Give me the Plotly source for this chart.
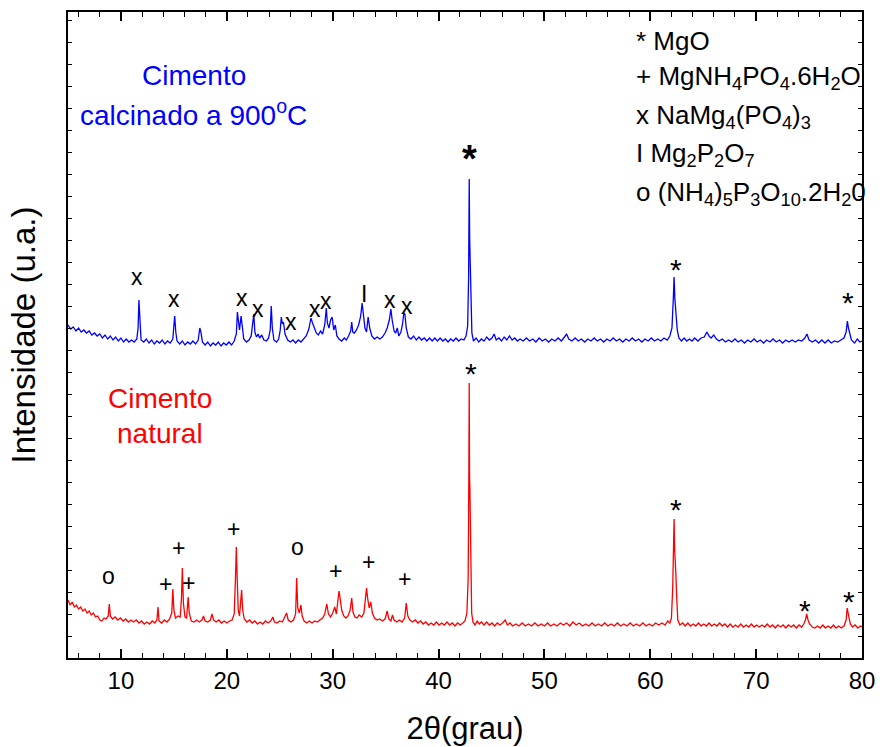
import plotly.graph_objects as go

# ---------------- data ----------------
two_theta_blue = [
 5.0,5.25,5.5,5.75,6.0,6.25,6.5,6.75,7.0,7.25,7.5,7.75,8.0,8.25,8.5,8.75,9.0,9.25,9.5,9.75,
 10.0,10.25,10.5,10.75,11.0,11.25,11.5,11.62,11.7,11.78,11.9,12.15,12.4,12.65,12.9,13.15,13.4,13.65,13.9,14.15,
 14.4,14.65,14.9,15.0,15.08,15.18,15.3,15.55,15.8,16.05,16.3,16.55,16.8,17.05,17.3,17.45,17.55,17.7,17.95,18.2,
 18.45,18.7,18.95,19.2,19.45,19.7,19.95,20.2,20.45,20.7,20.9,21.0,21.1,21.2,21.35,21.45,21.6,21.85,22.1,22.3,
 22.45,22.55,22.65,22.8,22.95,23.1,23.3,23.5,23.75,23.95,24.1,24.2,24.3,24.45,24.7,24.9,25.05,25.15,25.25,25.35,
 25.5,25.75,26.0,26.25,26.5,26.75,27.0,27.25,27.5,27.75,27.95,28.1,28.25,28.45,28.65,28.85,29.05,29.25,29.4,29.5,
 29.65,29.8,29.95,30.1,30.25,30.4,30.6,30.85,31.1,31.3,31.5,31.7,31.8,31.9,32.05,32.25,32.45,32.65,32.78,32.9,
 33.05,33.2,33.35,33.5,33.7,33.95,34.2,34.45,34.7,34.95,35.15,35.35,35.5,35.62,35.8,35.95,36.1,36.25,36.45,36.6,
 36.72,36.82,36.95,37.15,37.4,37.65,37.9,38.15,38.4,38.65,38.9,39.15,39.4,39.65,39.9,40.15,40.4,40.65,40.9,41.15,
 41.4,41.65,41.9,42.15,42.4,42.6,42.75,42.84,42.9,42.94,42.97,43.01,43.06,43.15,43.3,43.55,43.8,44.05,44.3,44.55,
 44.8,45.05,45.25,45.45,45.7,45.95,46.2,46.45,46.7,46.95,47.2,47.45,47.7,48.0,48.3,48.6,48.9,49.2,49.5,49.8,
 50.1,50.4,50.7,51.0,51.3,51.6,51.9,52.1,52.3,52.6,52.9,53.2,53.5,53.8,54.1,54.4,54.7,55.0,55.3,55.6,
 55.9,56.2,56.5,56.8,57.1,57.4,57.7,58.0,58.3,58.6,58.9,59.2,59.5,59.8,60.1,60.4,60.7,61.0,61.3,61.6,
 61.85,62.05,62.18,62.25,62.32,62.38,62.45,62.55,62.7,62.95,63.2,63.45,63.7,63.95,64.2,64.5,64.8,65.1,65.35,65.55,
 65.75,66.0,66.25,66.5,66.8,67.1,67.4,67.7,68.0,68.3,68.6,68.9,69.2,69.5,69.8,70.1,70.4,70.7,71.0,71.3,
 71.6,71.9,72.2,72.5,72.8,73.1,73.4,73.7,74.0,74.3,74.6,74.8,75.0,75.3,75.6,75.9,76.2,76.5,76.8,77.1,
 77.4,77.7,78.0,78.3,78.5,78.62,78.72,78.85,79.0,79.3,79.55,79.8,80.0]
intensity_blue = [
 333,329,331,327,330,326,328,325,327,323,325,322,324,320,323,319,322,318,321,317,
 320,316,319,316,318,316,319,330,358,335,318,316,319,315,318,314,317,315,318,314,
 317,315,319,332,342,326,317,314,317,313,316,314,317,314,318,330,326,316,313,316,
 312,315,313,316,312,315,313,316,313,317,324,346,332,328,342,330,319,316,318,322,
 335,344,326,321,324,320,323,318,317,320,328,352,330,318,316,319,328,341,334,336,
 324,318,316,318,315,318,316,319,322,329,340,335,331,325,323,327,324,333,350,335,
 330,338,341,328,333,322,319,317,320,318,322,327,336,326,325,328,333,342,355,340,
 330,326,341,330,322,319,321,319,321,325,330,338,349,338,327,325,330,322,326,334,
 345,344,330,321,319,322,318,321,318,320,317,320,317,320,317,320,317,319,316,319,
 317,320,317,319,318,322,332,380,479,420,401,388,345,325,317,320,316,319,317,321,
 318,320,324,318,320,317,321,318,322,318,320,317,319,317,320,317,319,316,320,317,
 319,316,319,317,320,317,321,324,319,317,320,317,319,316,319,317,320,317,319,316,
 319,317,320,317,319,316,319,317,320,317,319,316,319,317,320,317,319,317,320,318,
 322,330,360,381,360,353,348,328,320,317,320,317,319,317,320,317,320,321,326,322,
 320,323,319,317,319,316,318,316,319,316,318,315,318,316,319,316,318,315,318,316,
 319,316,318,315,318,316,318,316,318,317,320,324,318,316,318,315,318,315,318,315,
 317,316,318,320,326,337,330,325,318,315,319,316,317]

two_theta_red = [
 5.0,5.2,5.4,5.6,5.8,6.0,6.2,6.4,6.6,6.8,7.0,7.2,7.4,7.6,7.8,8.0,8.2,8.4,8.6,8.8,
 8.9,9.0,9.2,9.45,9.7,9.95,10.2,10.45,10.7,10.95,11.2,11.45,11.7,11.95,12.2,12.45,12.7,12.95,13.2,13.4,
 13.5,13.6,13.85,14.1,14.35,14.6,14.8,14.9,15.0,15.15,15.4,15.6,15.72,15.8,15.9,16.05,16.2,16.35,16.45,16.65,
 16.9,17.15,17.4,17.65,17.8,17.95,18.2,18.45,18.6,18.75,19.0,19.25,19.5,19.75,20.0,20.25,20.5,20.7,20.82,20.9,
 20.98,21.08,21.2,21.3,21.4,21.5,21.65,21.9,22.15,22.4,22.65,22.9,23.15,23.4,23.65,23.9,24.15,24.35,24.5,24.75,
 25.0,25.25,25.5,25.65,25.8,26.05,26.3,26.5,26.6,26.7,26.85,27.0,27.12,27.3,27.55,27.8,28.05,28.3,28.55,28.8,
 29.05,29.25,29.45,29.6,29.8,30.0,30.2,30.35,30.5,30.6,30.7,30.85,31.05,31.25,31.45,31.65,31.8,31.92,32.1,32.3,
 32.5,32.75,32.95,33.1,33.2,33.3,33.45,33.6,33.75,33.95,34.2,34.45,34.7,34.95,35.15,35.3,35.5,35.65,35.8,36.05,
 36.3,36.55,36.8,36.95,37.1,37.3,37.55,37.8,38.05,38.3,38.55,38.8,39.05,39.3,39.55,39.8,40.05,40.3,40.55,40.8,
 41.05,41.3,41.55,41.8,42.05,42.3,42.5,42.68,42.8,42.86,42.9,42.93,42.96,42.99,43.03,43.07,43.13,43.25,43.45,43.65,
 43.85,44.05,44.3,44.55,44.8,45.05,45.3,45.55,45.8,46.05,46.3,46.5,46.75,47.0,47.3,47.6,47.9,48.2,48.5,48.8,
 49.1,49.4,49.7,50.0,50.3,50.6,50.9,51.2,51.5,51.8,52.1,52.4,52.7,53.0,53.3,53.6,53.9,54.2,54.5,54.8,
 55.1,55.4,55.7,56.0,56.3,56.6,56.9,57.2,57.5,57.8,58.1,58.4,58.7,59.0,59.3,59.6,59.9,60.2,60.5,60.8,
 61.1,61.4,61.65,61.85,62.0,62.12,62.2,62.25,62.3,62.35,62.42,62.5,62.6,62.8,63.05,63.3,63.55,63.8,64.05,64.3,
 64.55,64.8,65.05,65.3,65.55,65.8,66.05,66.3,66.55,66.8,67.05,67.3,67.55,67.8,68.05,68.3,68.55,68.8,69.05,69.3,
 69.55,69.8,70.05,70.3,70.55,70.8,71.05,71.3,71.55,71.8,72.05,72.3,72.55,72.8,73.05,73.3,73.55,73.8,74.05,74.3,
 74.5,74.65,74.78,74.9,75.05,75.3,75.55,75.8,76.05,76.3,76.55,76.8,77.05,77.3,77.55,77.8,78.05,78.3,78.5,78.6,
 78.68,78.78,78.9,79.1,79.35,79.6,79.85,80.0]
intensity_red = [
 58,53,56,51,53,49,51,47,49,45,47,43,45,41,42,38,37,40,39,42,
 54,42,39,41,38,40,37,39,36,38,36,38,35,37,34,36,34,37,35,38,
 51,37,35,38,36,39,45,69,48,40,42,41,60,90,55,41,40,61,45,37,
 36,38,36,38,42,37,36,38,44,38,36,38,35,37,35,37,38,44,80,111,
 80,48,42,55,68,48,39,36,38,35,37,34,36,34,37,35,37,41,36,35,
 37,36,41,45,38,36,38,44,80,50,45,53,42,37,35,37,35,37,36,38,
 40,44,54,44,41,45,51,44,55,67,60,48,42,40,42,48,60,46,41,40,
 43,41,45,58,70,60,50,56,45,40,38,39,37,39,47,39,37,43,38,36,
 38,36,40,55,42,38,36,38,35,37,34,36,33,35,33,36,33,35,33,36,
 33,35,32,35,33,35,37,45,80,180,275,180,171,145,141,90,45,36,33,37,
 34,36,33,36,33,35,32,35,33,35,38,33,35,32,34,32,35,32,34,32,
 35,32,34,32,35,32,34,32,35,33,35,32,36,33,35,32,34,32,35,32,
 34,32,35,32,34,32,35,32,34,32,35,32,34,32,35,32,34,32,35,33,
 35,33,37,35,40,70,120,139,110,85,83,60,38,33,35,32,35,32,34,32,
 35,32,34,32,35,32,34,32,35,32,34,31,34,31,33,31,34,31,33,31,
 34,31,33,31,33,31,34,31,33,30,33,31,33,30,33,31,33,30,33,31,
 34,38,44,38,34,31,30,32,30,33,30,32,30,33,30,32,30,32,38,50,
 44,40,34,31,33,30,32,31]

x_ticks = [10, 20, 30, 40, 50, 60, 70, 80]

# peak-label positions (2theta, symbol, intensity)
blue_marks = [(11.5, "x", 381), (15.0, "x", 359), (21.4, "x", 360), (22.9, "x", 349),
              (26.1, "x", 336), (28.3, "x", 349), (29.4, "x", 357), (33.0, "I", 364),
              (35.4, "x", 358), (37.0, "x", 352), (62.4, "*", 397), (78.7, "*", 364)]
red_marks = [(8.8, "o", 82), (14.25, "+", 74), (15.4, "+", 110), (16.35, "+", 75),
             (20.6, "+", 129), (26.7, "o", 111), (30.3, "+", 87), (33.4, "+", 96),
             (36.8, "+", 79), (43.05, "*", 293), (62.4, "*", 157), (74.6, "*", 56),
             (78.75, "*", 65)]

legend_lines = ["* MgO",
                "+ MgNH<sub>4</sub>PO<sub>4</sub>.6H<sub>2</sub>O",
                "x NaMg<sub>4</sub>(PO<sub>4</sub>)<sub>3</sub>",
                "I Mg<sub>2</sub>P<sub>2</sub>O<sub>7</sub>",
                "o (NH<sub>4</sub>)<sub>5</sub>P<sub>3</sub>O<sub>10</sub>.2H<sub>2</sub>0"]

FONT = "Liberation Sans, Arial, sans-serif"

fig = go.Figure()
fig.add_trace(go.Scatter(x=two_theta_blue, y=intensity_blue, mode="lines",
                         line=dict(color="#0000FF", width=1.3), showlegend=False))
fig.add_trace(go.Scatter(x=two_theta_red, y=intensity_red, mode="lines",
                         line=dict(color="#FF0000", width=1.3), showlegend=False))

ann = []
for x, s, y in blue_marks + red_marks:
    size, off = 23, 0
    if s == "*":
        size, off = 30, -8
    ann.append(dict(x=x, y=y, text=s, showarrow=False, xref="x", yref="y",
                    yshift=off, font=dict(size=size, color="black", family=FONT)))
# big bold asterisk over the main calcined MgO peak
ann.append(dict(x=42.9, y=510, text="<b>*</b>", showarrow=False, yshift=-11,
                font=dict(size=38, color="black", family=FONT)))

# sample labels
ann.append(dict(x=16.9, y=583, text="Cimento", showarrow=False,
                font=dict(size=28, color="#0000FF", family=FONT)))
ann.append(dict(x=16.9, y=545, text="calcinado a 900<sup>o</sup>C", showarrow=False,
                font=dict(size=28, color="#0000FF", family=FONT)))
ann.append(dict(x=13.7, y=260, text="Cimento", showarrow=False,
                font=dict(size=28, color="#FF0000", family=FONT)))
ann.append(dict(x=13.7, y=225, text="natural", showarrow=False,
                font=dict(size=28, color="#FF0000", family=FONT)))

for i, t in enumerate(legend_lines):
    ann.append(dict(x=58.5, y=617 - i * 38.5 + (0 if i == 0 else 2), text=t,
                    showarrow=False, xanchor="left",
                    font=dict(size=26, color="black", family=FONT)))

fig.update_layout(
    width=880, height=747,
    margin=dict(l=68, r=18, t=12, b=89),
    paper_bgcolor="white", plot_bgcolor="white",
    font=dict(family=FONT, color="black"),
    annotations=ann,
    xaxis=dict(range=[5, 80], tickvals=x_ticks, ticks="inside", ticklen=9, tickwidth=1.5,
               tickcolor="black", showline=True, linecolor="black", linewidth=2,
               mirror="ticks", showgrid=False, zeroline=False, automargin=False,
               tickfont=dict(size=24, family=FONT),
               minor=dict(dtick=2, tick0=0, ticks="inside", ticklen=5, tickwidth=1.2,
                          tickcolor="black", showgrid=False),
               title=dict(text="2θ(grau)", font=dict(size=31, family=FONT), standoff=25)),
    yaxis=dict(range=[0, 646], dtick=22, tick0=0, ticks="inside", ticklen=4, tickwidth=1.2,
               tickcolor="black", showticklabels=False, showline=True, linecolor="black",
               linewidth=2, mirror="ticks", showgrid=False, zeroline=False, automargin=False,
               title=dict(text="Intensidade (u.a.)", font=dict(size=33, family=FONT),
                          standoff=20)),
)

fig.write_html("out.html", config={"displayModeBar": False},
               post_script="document.body.style.margin='0';")
